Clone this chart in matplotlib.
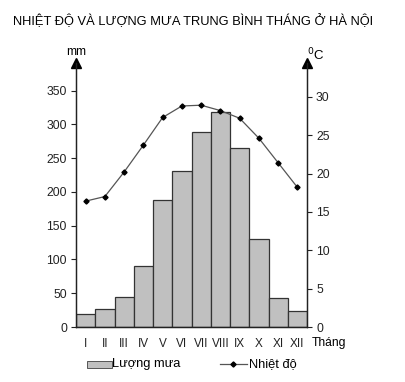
#!/usr/bin/env python3
"""
Rainfall (bars) and temperature (line) by month for Ha Noi.
"""

import matplotlib
matplotlib.use('Agg')
import matplotlib.pyplot as plt
from matplotlib.patches import Rectangle
from matplotlib.lines import Line2D

plt.rcParams['font.family'] = ['Liberation Sans', 'DejaVu Sans']

months = ['I', 'II', 'III', 'IV', 'V', 'VI', 'VII', 'VIII', 'IX', 'X', 'XI', 'XII']
rain_mm = [18.6, 26.2, 43.8, 90.1, 188.5, 231.0, 288.2, 318.0, 265.4, 130.7, 43.4, 23.4]
temp_c = [16.4, 17.0, 20.2, 23.7, 27.3, 28.8, 28.9, 28.2, 27.2, 24.6, 21.4, 18.2]
rain_ticks = [0, 50, 100, 150, 200, 250, 300, 350]
temp_ticks = [0, 5, 10, 15, 20, 25, 30]

W, H = 405, 382


def fx(px):
    return px / W


def fy(py):
    return 1 - py / H


def main():
    fig = plt.figure(figsize=(W / 100, H / 100), dpi=100)
    ax = fig.add_axes([fx(76), fy(327), (307 - 76) / W, (327 - 63) / H])
    ax2 = ax.twinx()

    x = list(range(len(months)))
    ax.bar(x, rain_mm, width=1.0, color='#c0c0c0', edgecolor='#333333',
           linewidth=0.9, zorder=2)
    ax2.plot(x, temp_c, color='#555555', linewidth=0.9, marker='D',
             markersize=2.6, markerfacecolor='black', markeredgecolor='black',
             zorder=3)

    ax.set_xlim(-0.5, len(months) - 0.5)
    ax.set_ylim(0, 391)
    ax2.set_ylim(0, 34.4)

    ax.set_xticks(x)
    ax.set_xticklabels(months, fontsize=8.5)
    ax.tick_params(axis='x', length=0, pad=8, colors='#222222')
    ax.set_yticks(rain_ticks)
    ax.tick_params(axis='y', length=3.5, width=0.8, pad=3, labelsize=8.7,
                   colors='#222222')
    ax2.set_yticks(temp_ticks)
    ax2.tick_params(axis='y', length=3.5, width=0.8, pad=3, labelsize=8.7,
                    colors='#222222')

    for a in (ax, ax2):
        a.spines['top'].set_visible(False)
        for s in ('left', 'right', 'bottom'):
            a.spines[s].set_linewidth(0.9)
            a.spines[s].set_color('#222222')
    ax2.set_zorder(ax.get_zorder() + 1)
    ax2.patch.set_visible(False)

    # arrow heads on both y axes
    for xa in (0, 1):
        ax.plot([xa], [1], marker='^', markersize=7, color='black',
                transform=ax.transAxes, clip_on=False)

    fig.text(fx(76), fy(52), 'mm', fontsize=8.7, ha='center', va='center')
    fig.text(fx(307), fy(55), r'$^0$C', fontsize=9.5, ha='left', va='center')
    fig.text(fx(312), fy(343), 'Tháng', fontsize=8.7, ha='left', va='center')

    fig.text(fx(13), fy(21), 'NHIỆT ĐỘ VÀ LƯỢNG MƯA TRUNG BÌNH THÁNG Ở HÀ NỘI',
             fontsize=9.3, ha='left', va='center')

    # legend
    fig.patches.append(Rectangle((fx(87), fy(367.5)), fx(25), 6.5 / H,
                                 transform=fig.transFigure, facecolor='#c0c0c0',
                                 edgecolor='#555555', linewidth=0.7))
    fig.text(fx(112.5), fy(364), 'Lượng mưa', fontsize=9.3, ha='left', va='center')
    fig.lines.append(Line2D([fx(220), fx(247)], [fy(364), fy(364)],
                            transform=fig.transFigure, color='#555555',
                            linewidth=0.9))
    fig.lines.append(Line2D([fx(233.5)], [fy(364)], transform=fig.transFigure,
                            marker='D', markersize=2.6, color='black',
                            linestyle='none'))
    fig.text(fx(249), fy(364), 'Nhiệt độ', fontsize=9.3, ha='left', va='center')

    fig.savefig('out.png', dpi=100)


if __name__ == '__main__':
    main()
